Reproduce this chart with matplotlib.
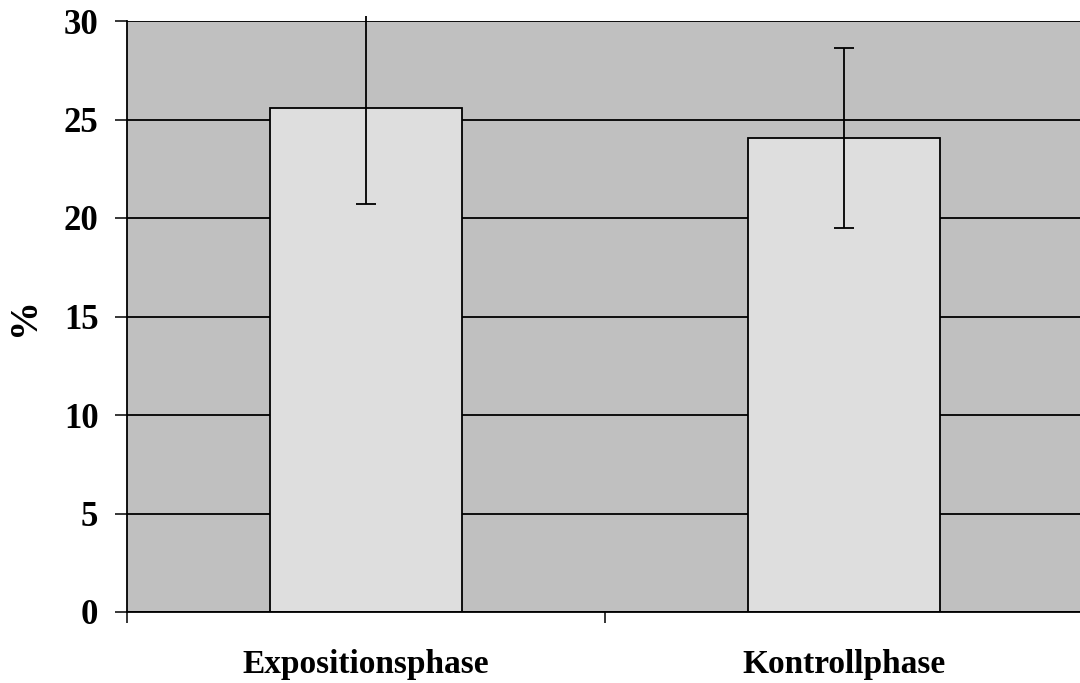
import matplotlib
matplotlib.use('Agg')
from matplotlib import pyplot as plt
from matplotlib.patches import Rectangle

categories = ['Expositionsphase', 'Kontrollphase']
values = [25.58, 24.06]
err_low = [4.87, 4.57]
err_high = [4.67, 4.57]
y_ticks = [0, 5, 10, 15, 20, 25, 30]

plt.rcParams['font.family'] = ['Liberation Serif', 'DejaVu Serif']
plt.rcParams['font.weight'] = 'bold'

fig = plt.figure(figsize=(10.8, 6.83), dpi=100)
ax = fig.add_axes([127 / 1080, 71 / 683, 956 / 1080, 591 / 683])
ax.set_facecolor('#c0c0c0')

x = list(range(len(categories)))
ax.set_axisbelow(True)
ax.yaxis.grid(True, color='black', linewidth=1.3)
ax.bar(x, values, width=0.4, color='#dedede', edgecolor='black',
       linewidth=1.3, zorder=2)

eb = ax.errorbar(x, values, yerr=[err_low, err_high], fmt='none',
                 ecolor='black', elinewidth=1.3, capsize=7, capthick=1.3,
                 zorder=3)
clip = Rectangle((0, -0.05), 1, 1.064, transform=ax.transAxes)
for art in eb.lines[1] + eb.lines[2]:
    art.set_clip_path(clip)
# the top cap of the first bar is cut off in the original
upper_caps = eb.lines[1][1]
upper_caps.set_markevery([1])

ax.set_xlim(-0.5, 1.5)
ax.set_ylim(0, 30)
ax.set_yticks(y_ticks)
ax.set_xticks(x)
ax.set_xticklabels(categories)
ax.set_xticks([-0.5, 0.5, 1.5], minor=True)
ax.tick_params(axis='x', which='major', length=0, pad=27, labelsize=24)
ax.tick_params(axis='x', which='minor', length=8, width=1.1, direction='out')
ax.tick_params(axis='y', length=8.6, width=1.1, pad=12, labelsize=25)

for side in ['top', 'right']:
    ax.spines[side].set_visible(False)
ax.spines['left'].set_linewidth(1.3)
ax.spines['bottom'].set_linewidth(1.3)

ax.set_ylabel('%', fontsize=28, fontweight='bold', labelpad=15)

fig.savefig('out.png', dpi=100)
